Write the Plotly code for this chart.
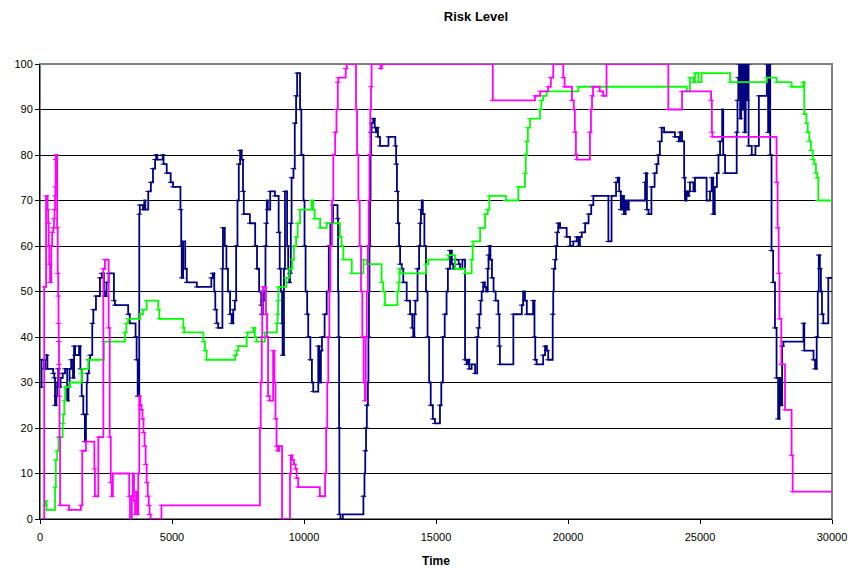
import plotly.graph_objects as go

# Step breakpoints (time, level) for each risk series
navy_t = [25, 60, 150, 200, 250, 280, 500, 540, 570, 620, 650, 690, 720, 780, 860, 950,
          1030, 1080, 1120, 1180, 1250, 1290, 1330, 1480, 1530, 1580, 1640, 1700, 1740, 1770,
          1800, 1850, 1900, 1980, 2020, 2120, 2270, 2340, 2420, 2460, 2520, 2600, 2800, 2840,
          3340, 3400, 3620, 3660, 3700, 3760, 3780, 3900, 3950, 3990, 4100, 4200, 4280, 4360,
          4400, 4440, 4650, 4680, 4800, 4950, 5040, 5320, 5350, 5370, 5420, 5500, 5560, 5940,
          6490, 6540, 6600, 6640, 6690, 6750, 6910, 6930, 7000, 7060, 7120, 7200, 7260, 7320,
          7380, 7430, 7480, 7530, 7580, 7640, 7690, 7720, 7950, 8150, 8220, 8300, 8380, 8400,
          8440, 8480, 8540, 8570, 8590, 8630, 8720, 8900, 9040, 9080, 9120, 9170, 9190, 9240,
          9280, 9360, 9400, 9440, 9470, 9500, 9530, 9600, 9650, 9700, 9740, 9850, 9900, 9980,
          10020, 10060, 10120, 10160, 10240, 10300, 10350, 10540, 10580, 10640, 10680, 10780,
          10860, 10940, 11000, 11100, 11270, 11290, 11310, 11330, 11340, 11380, 11470, 12250,
          12290, 12320, 12350, 12380, 12420, 12440, 12460, 12480, 12500, 12520, 12540, 12560,
          12620, 12680, 12720, 12760, 12800, 12880, 13200, 13460, 13490, 13520, 13560, 13600,
          13640, 13700, 13760, 13890, 14020, 14100, 14140, 14180, 14220, 14300, 14360, 14400,
          14430, 14460, 14500, 14560, 14620, 14680, 14740, 14800, 14880, 14960, 15150, 15200,
          15260, 15330, 15400, 15450, 15530, 15600, 15650, 15720, 15860, 15910, 16000, 16100,
          16160, 16200, 16260, 16350, 16480, 16560, 16600, 16640, 16690, 16730, 16790, 16850,
          16900, 16960, 16990, 17020, 17060, 17120, 17180, 17260, 17360, 17400, 17420, 17930,
          18250, 18300, 18370, 18440, 18680, 18730, 18760, 18810, 19060, 19130, 19200, 19250,
          19420, 19440, 19460, 19510, 19550, 19590, 19630, 19700, 19950, 20080, 20200, 20330,
          20400, 20450, 20520, 20650, 20780, 20880, 20960, 21530, 21650, 21820, 21880, 21940,
          22000, 22060, 22120, 22180, 22250, 22300, 22920, 22950, 22990, 23050, 23160, 23280,
          23360, 23420, 23480, 23550, 23640, 24050, 24200, 24250, 24320, 24400, 24430, 24490,
          24540, 24580, 24620, 24750, 24810, 25250, 25380, 25440, 25500, 25560, 25640, 25700,
          25760, 25840, 25880, 25950, 26390, 26420, 26450, 26480, 26520, 26560, 26600, 26640,
          26690, 26730, 26780, 26830, 26840, 26960, 27100, 27230, 27530, 27580, 27620, 27660,
          27710, 27770, 27840, 27900, 27960, 28010, 28060, 28110, 28160, 28920, 28950, 29300,
          29360, 29420, 29460, 29500, 29540, 29580, 29620, 29670, 29860, 30000]
navy_v = [29, 35, 33, 35, 36, 33, 32, 31, 25, 27, 30, 33, 29, 31, 32, 33,
          26, 29, 33, 35, 31, 38, 36, 38, 33, 27, 23, 17, 23, 30,
          32, 35, 36, 43, 46, 49, 53, 54, 50, 49, 52, 54, 48, 47,
          45, 43, 40, 35, 27, 67, 69, 68, 70, 68, 72, 74, 77, 79,
          80, 79, 80, 78, 76, 74, 73, 68, 60, 53, 61, 55, 52, 51,
          53, 54, 50, 46, 43, 42, 55, 64, 60, 55, 50, 45, 43, 46,
          48, 60, 70, 78, 81, 79, 72, 67, 65, 60, 55, 50, 47, 45,
          48, 50, 60, 65, 70, 68, 72, 71, 63, 55, 50, 43, 36, 55,
          72, 60, 55, 52, 54, 65, 75, 77, 87, 93, 98, 90, 80, 70,
          60, 50, 45, 40, 35, 30, 28, 38, 30, 37, 40, 45,
          50, 60, 65, 69, 66, 50, 40, 20, 1, 0, 1, 5,
          10, 15, 20, 25, 30, 40, 50, 60, 70, 80, 85, 87,
          88, 86, 85, 86, 84, 82, 84, 82, 78, 72, 65, 60,
          56, 55, 52, 48, 45, 42, 40, 45, 48, 55, 60, 65,
          68, 70, 67, 60, 50, 40, 30, 25, 22, 21, 25, 30,
          40, 45, 50, 55, 59, 56, 55, 57, 56, 55, 57, 35,
          34, 35, 33, 34, 32, 40, 42, 45, 48, 50, 52, 51,
          50, 55, 58, 60, 57, 53, 50, 48, 45, 38, 34, 45,
          47, 50, 48, 45, 48, 40, 35, 34, 36, 38, 37, 35,
          45, 50, 55, 57, 60, 63, 65, 64, 62, 60, 61, 62,
          60, 62, 63, 65, 67, 69, 71, 61, 71, 74, 75, 72,
          68, 71, 67, 70, 68, 70, 74, 76, 68, 67, 73, 76,
          78, 80, 83, 86, 85, 84, 83, 85, 83, 75, 70, 72,
          71, 72, 74, 72, 75, 70, 72, 75, 67, 73, 76, 80,
          83, 90, 80, 76, 85, 92, 97, 100, 88, 100, 90, 100,
          85, 100, 92, 100, 82, 80, 82, 93, 100, 85, 100, 80,
          59, 52, 42, 31, 22, 31, 25, 38, 39, 43, 37, 35,
          33, 40, 50, 58, 55, 50, 45, 43, 53, 53]

magenta_t = [150, 160, 230, 290, 310, 330, 350, 380, 430, 460, 500, 530, 550, 570, 580,
             590, 600, 650, 670, 690, 700, 710, 720, 730, 740, 760, 1100, 1550, 1600, 1740,
             2060, 2080, 2210, 2400, 2460, 2600, 2640, 2680, 2720, 2760, 3380, 3410, 3480,
             3520, 3560, 3600, 3640, 3680, 3720, 3760, 3800, 3840, 3880, 3920, 3960, 4000,
             4040, 4080, 4120, 4150, 4190, 4600, 8330, 8360, 8400, 8420, 8450, 8560, 8600,
             8640, 8700, 8830, 8880, 8920, 8960, 9000, 9060, 9170, 9470, 9500, 9560, 9620,
             9680, 9720, 9780, 10600, 10800, 10840, 10880, 10920, 10960, 11000, 11060, 11110,
             11180, 11230, 11280, 11300, 11580, 11620, 11970, 12010, 12060, 12110, 12160,
             12210, 12260, 12310, 12340, 12380, 12420, 12450, 12480, 12510, 12540, 12560,
             12900, 12950, 17150, 18750, 18950, 19250, 19350, 19440, 19820, 19870, 20150,
             20220, 20260, 20300, 20340, 20830, 20870, 20910, 20950, 21200, 21330, 21460,
             23800, 24320, 25420, 25450, 25470, 27900, 27940, 27980, 28010, 28080, 28220,
             28470, 28510, 30000]
magenta_v = [0, 51, 71, 68, 65, 60, 56, 52, 60, 63, 64, 66, 68, 71, 73,
             79, 80, 64, 54, 49, 43, 39, 34, 27, 18, 3, 2, 3, 15, 17,
             11, 5, 18, 55, 57, 42, 18, 8, 5, 10, 5, 0, 5,
             10, 4, 1, 6, 1, 10, 27, 25, 24, 22, 19, 16, 12,
             8, 5, 3, 1, 0, 3, 20, 30, 40, 50, 51, 45, 40,
             27, 26, 37, 30, 22, 16, 15, 16, 0, 10, 14, 13, 12,
             11, 9, 7, 5, 10, 20, 30, 40, 50, 60, 70, 80,
             85, 90, 96, 97, 99, 100, 90, 80, 70, 60, 50,
             40, 30, 26, 40, 50, 60, 70, 80, 90, 95, 100,
             99, 100, 92, 93, 94, 95, 97, 100, 97, 95, 92,
             90, 85, 80, 79, 85, 90, 93, 95, 94, 93, 100,
             90, 94, 92, 85, 84, 74, 64, 54, 44, 34, 24,
             14, 6, 6]

green_t = [190, 220, 250, 570, 600, 650, 700, 860, 880, 920, 950, 1140, 1580, 1600, 1830,
           2420, 3220, 3270, 3340, 3790, 3900, 4040, 4480, 4520, 5430, 5460, 6190, 6250,
           6310, 7390, 7450, 7510, 7830, 7860, 8080, 8140, 8200, 8520, 8970, 9000, 9020,
           9030, 9330, 9450, 9560, 9620, 9700, 9760, 9850, 10290, 10350, 10400, 10610,
           10860, 11360, 11420, 11490, 11810, 12250, 12380, 12940, 13000, 13070, 13540,
           13590, 13620, 13640, 14620, 14710, 15470, 15720, 16100, 16350, 16390, 16410,
           16670, 16860, 16960, 17020, 17650, 18120, 18370, 18400, 18440, 18480, 18560,
           18940, 18990, 19060, 19190, 20390, 24500, 24620, 24750, 24810, 24940, 25060,
           26140, 27530, 27900, 28470, 28910, 28950, 29030, 29080, 29140, 29200, 29270,
           29330, 29390, 29440, 29480, 30000]
green_v = [3, 4, 2, 7, 13, 15, 18, 21, 23, 26, 29, 30, 32, 33, 35,
           39, 41, 43, 44, 45, 46, 48, 46, 44, 42, 41, 39, 37,
           35, 36, 37, 38, 40, 41, 42, 40, 39, 41, 43, 45, 48,
           51, 53, 55, 57, 60, 62, 65, 68, 70, 68, 66, 64,
           65, 62, 60, 57, 54, 57, 56, 52, 50, 47, 50,
           52, 55, 54, 56, 57, 58, 55, 54, 57, 60, 61,
           64, 67, 68, 71, 70, 73, 76, 80, 83, 86, 88,
           90, 92, 93, 94, 95, 94, 97, 96, 98, 96, 98,
           96, 97, 96, 95, 96, 89, 87, 85, 83, 81, 79,
           78, 76, 75, 70, 70]

series = [
    ("Navy", navy_t, navy_v, "#000080"),
    ("Green", green_t, green_v, "#00FF00"),
    ("Magenta", magenta_t, magenta_v, "#FF00FF"),
]

x_ticks = [0, 5000, 10000, 15000, 20000, 25000, 30000]
y_ticks = [0, 10, 20, 30, 40, 50, 60, 70, 80, 90, 100]

FONT = "Liberation Sans, Arial, sans-serif"

fig = go.Figure()
for name, t, v, color in series:
    fig.add_trace(go.Scatter(
        x=t, y=v, name=name, mode="lines+markers",
        line=dict(color=color, width=1.8, shape="hv"),
        marker=dict(symbol="line-ew", size=4, color=color,
                    line=dict(color=color, width=1)),
        showlegend=False,
    ))

fig.update_layout(
    width=853, height=570,
    margin=dict(l=40, r=21, t=64, b=51, autoexpand=False),
    paper_bgcolor="white", plot_bgcolor="white",
    font=dict(family=FONT, size=11, color="black"),
    title=dict(text="<b>Risk Level</b>", x=476 / 853, xanchor="center",
               y=1 - 16 / 570, yanchor="middle",
               font=dict(family=FONT, size=13, color="black")),
    shapes=[dict(type="rect", xref="paper", yref="paper", x0=0, x1=1, y0=0, y1=1,
                 line=dict(color="#808080", width=2), layer="between")],
)

fig.update_xaxes(
    range=[0, 30000], tickvals=x_ticks, ticktext=[str(v) for v in x_ticks],
    showgrid=False, zeroline=False, automargin=False,
    showline=True, linecolor="black", linewidth=1,
    ticks="outside", ticklen=4, tickcolor="black", ticklabelstandoff=4,
    tickfont=dict(family=FONT, size=11, color="black"),
    title=dict(text="<b>Time</b>", font=dict(family=FONT, size=12, color="black"),
               standoff=14),
)
fig.update_yaxes(
    range=[0, 100], tickvals=y_ticks, ticktext=[str(v) for v in y_ticks],
    showgrid=True, gridcolor="black", gridwidth=1, zeroline=False, automargin=False,
    showline=True, linecolor="black", linewidth=1,
    ticks="outside", ticklen=4, tickcolor="black",
    tickfont=dict(family=FONT, size=11, color="black"),
)

fig.write_html("out.html")
